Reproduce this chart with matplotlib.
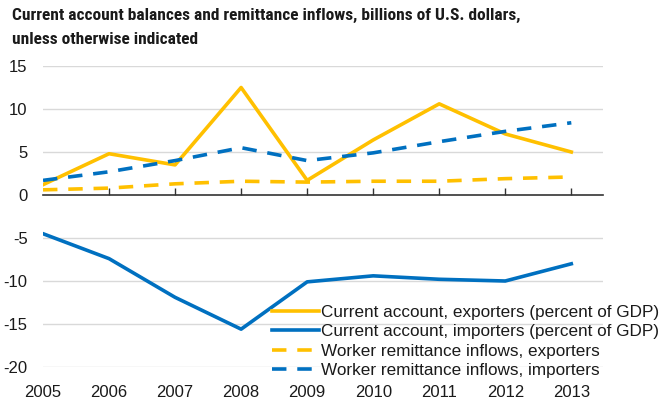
import matplotlib
matplotlib.use("Agg")
import matplotlib.pyplot as plt
from matplotlib import font_manager

years = [2005, 2006, 2007, 2008, 2009, 2010, 2011, 2012, 2013]
ca_exporters = [1.2, 4.8, 3.5, 12.5, 1.7, 6.4, 10.6, 7.1, 5.0]
ca_importers = [-4.5, -7.4, -11.9, -15.6, -10.1, -9.4, -9.8, -10.0, -8.0]
rem_exporters = [0.6, 0.8, 1.3, 1.6, 1.5, 1.6, 1.6, 1.9, 2.1]
rem_importers = [1.7, 2.7, 4.0, 5.5, 4.0, 4.9, 6.2, 7.4, 8.4]
labels = ["Current account, exporters (percent of GDP)",
          "Current account, importers (percent of GDP)",
          "Worker remittance inflows, exporters",
          "Worker remittance inflows, importers"]
yticks = [15, 10, 5, 0, -5, -10, -15, -20]
title = "Current account balances and remittance inflows, billions of U.S. dollars,\nunless otherwise indicated"

names = {f.name for f in font_manager.fontManager.ttflist}
narrow = None
for cand in ["Liberation Sans Narrow", "Arial Narrow", "Roboto Condensed"]:
    if cand in names:
        narrow = cand
        break
plt.rcParams['font.family'] = ['Liberation Sans', 'DejaVu Sans']

GOLD = "#FFC000"
BLUE = "#0070C0"

fig = plt.figure(figsize=(6.6, 4.0), dpi=100)
ax = fig.add_axes([43/660, 1-367/400, (603-43)/660, (367-66)/400])

lw = 2.6
ax.plot(years, ca_exporters, color=GOLD, lw=lw, label=labels[0])
ax.plot(years, ca_importers, color=BLUE, lw=lw, label=labels[1])
ax.plot(years, rem_exporters, color=GOLD, lw=lw, ls=(0, (4, 3)), label=labels[2])
ax.plot(years, rem_importers, color=BLUE, lw=lw, ls=(0, (4, 3)), label=labels[3])

ax.set_xlim(2005, 2013.48)
ax.set_ylim(-20, 15)
ax.set_yticks(yticks)
ax.set_yticklabels([str(v) for v in yticks])
for v in yticks:
    if v != 0:
        ax.axhline(v, color="#D9D9D9", lw=1, zorder=0)

for s in ['left', 'right', 'top']:
    ax.spines[s].set_visible(False)
ax.spines['bottom'].set_position(('data', 0))
ax.spines['bottom'].set_color('#333333')
ax.spines['bottom'].set_linewidth(1.2)
ax.spines['bottom'].set_zorder(1)
ax.set_xticks(years[1:])
ax.tick_params(axis='x', direction='in', length=5, width=1, color='#333333', labelbottom=False)
ax.tick_params(axis='y', length=0, labelsize=12, pad=11, labelcolor='#1a1a1a')

sec = ax.secondary_xaxis('bottom')
sec.set_xticks(years)
sec.set_xticklabels([str(y) for y in years])
sec.tick_params(length=0, labelsize=12, pad=13, labelcolor='#1a1a1a')
sec.spines['bottom'].set_visible(False)

leg = ax.legend(loc='upper left', bbox_to_anchor=(272/660, 1-305/400), bbox_transform=fig.transFigure,
                frameon=False, fontsize=12.3, handlelength=2.75, handletextpad=0.12,
                labelspacing=0.26, borderpad=0, borderaxespad=0)
for t in leg.get_texts():
    t.set_color('#1a1a1a')

if narrow:
    fig.text(12/660, 1-8/400, title, ha='left', va='top', fontsize=12.5, fontweight='bold',
             family=[narrow, 'DejaVu Sans'], linespacing=1.75, color='#1a1a1a')
else:
    fig.text(12/660, 1-8/400, title, ha='left', va='top', fontsize=10.6, fontweight='bold',
             linespacing=1.85, color='#1a1a1a')

fig.savefig("out.png", dpi=100)
